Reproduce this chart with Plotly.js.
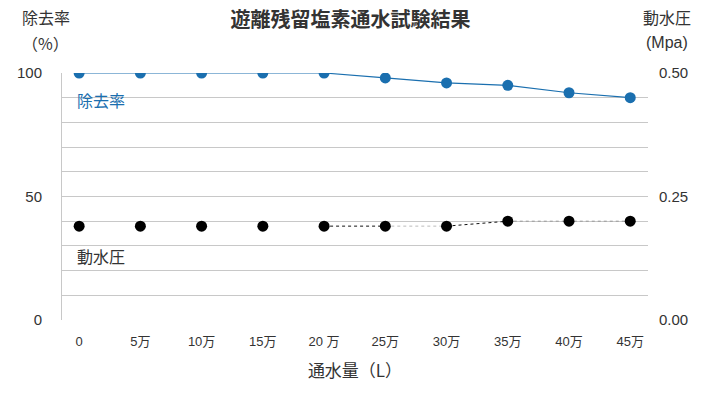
<!DOCTYPE html>
<html><head><meta charset="utf-8">
<script src="https://cdn.plot.ly/plotly-3.0.1.min.js"></script>
<style>html,body{margin:0;padding:0;background:#fff}</style>
</head><body>
<div id="chart" style="width:711px;height:397px"></div>
<script>
const categories = ['0','5万','10万','15万','20 万','25万','30万','35万','40万','45万'];
const removalRate = [100,100,100,100,100,98,96,95,92,90];
const pressure = [0.19,0.19,0.19,0.19,0.19,0.19,0.19,0.20,0.20,0.20];
const leftTickVals = [0,10,20,30,40,50,60,70,80,90,100];
const leftTickText = ['0','','','','','50','','','','','100'];
const rightTickVals = [0,0.25,0.5];

function seg(a,b){ return {x:categories.slice(a,b+1), y:pressure.slice(a,b+1)}; }
const font = "'Liberation Sans', 'Noto Sans CJK JP', sans-serif";
const cjk = "'Noto Sans CJK JP', sans-serif";
const blue = '#1a6faf';

const traces = [
  {x:categories, y:removalRate, type:'scatter', mode:'lines+markers', yaxis:'y',
   line:{color:blue,width:1.2}, marker:{color:blue,size:11}, hoverinfo:'skip'},
];
const segs = [[4,5,'#111'],[5,6,'#bbbbbb'],[6,7,'#111'],[7,9,'#999999']];
segs.forEach(s=>{const d=seg(s[0],s[1]);
  traces.push({x:d.x,y:d.y,type:'scatter',mode:'lines',yaxis:'y2',
    line:{color:s[2],width:1,dash:'dot'},hoverinfo:'skip'});});
traces.push({x:categories, y:pressure, type:'scatter', mode:'markers', yaxis:'y2',
  marker:{color:'#000',size:11}, hoverinfo:'skip'});

function topNote(text, x, yPx, fam){
  return {text:text, xref:'paper', yref:'paper', x:x, y:(320-yPx)/247, xanchor:'center', yanchor:'middle',
    showarrow:false, font:{size:16,color:'#333',family:fam}};
}

const layout = {
  width:711, height:397, showlegend:false,
  margin:{l:62,r:63,t:73,b:77},
  paper_bgcolor:'#fff', plot_bgcolor:'#fff',
  font:{family:font,size:14,color:'#333'},
  title:{text:'<b>遊離残留塩素通水試験結果</b>', x:0.493, xanchor:'center', yref:'container', y:0.95, yanchor:'middle', font:{size:20,color:'#333',family:cjk}},
  xaxis:{type:'category', range:[-0.28,9.29], showgrid:false, zeroline:false, showline:false,
    ticks:'', tickfont:{size:13,color:'#333'}, ticklen:0, ticklabelstandoff:12,
    title:{text:'通水量（L）', font:{size:17,color:'#333',family:cjk}, standoff:17}},
  yaxis:{range:[0,100], tickvals:leftTickVals, ticktext:leftTickText, showgrid:true,
    gridcolor:'#c8c8c8', gridwidth:1, zeroline:false, showline:true, linecolor:'#c8c8c8', linewidth:1,
    ticks:'', ticklabelstandoff:16, tickfont:{size:15,color:'#333'}},
  yaxis2:{range:[0,0.5], overlaying:'y', side:'right', tickvals:rightTickVals, tickformat:'.2f',
    showgrid:false, zeroline:false, showline:false, ticks:'', ticklabelstandoff:10,
    tickfont:{size:15,color:'#333'}},
  annotations:[
    topNote('除去率', -0.028, 17, cjk),
    topNote('（%）', -0.028, 43, cjk),
    topNote('動水圧', 1.033, 17, cjk),
    topNote('(Mpa)', 1.033, 43, font),
    {text:'除去率', xref:'x', yref:'y', x:0, y:89, xanchor:'left', yanchor:'middle', xshift:-4,
     showarrow:false, font:{size:16,color:blue,family:cjk}},
    {text:'動水圧', xref:'x', yref:'y', x:0, y:26, xanchor:'left', yanchor:'middle', xshift:-4,
     showarrow:false, font:{size:16,color:'#333',family:cjk}}
  ]
};
Plotly.newPlot('chart', traces, layout, {displayModeBar:false, staticPlot:true});
</script>
</body></html>
